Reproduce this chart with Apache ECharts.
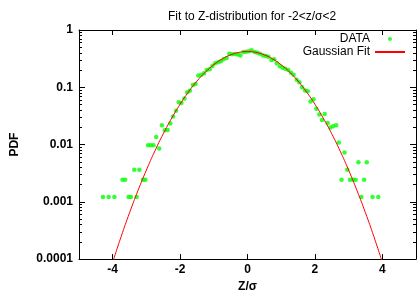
<!DOCTYPE html>
<html>
<head>
<meta charset="utf-8">
<script src="https://cdn.jsdelivr.net/npm/echarts@6/dist/echarts.min.js"></script>
<style>
  html, body { margin: 0; padding: 0; background: #fff; }
  #chart { width: 418px; height: 298px; }
</style>
</head>
<body>
<div id="chart"></div>
<script>
// histogram points (z/sigma, pdf)
var dataX = [-4.29,-4.12,-3.95,-3.71,-3.63,-3.53,-3.46,-3.36,-3.29,-3.21,-3.10,-3.03,
  -2.95,-2.87,-2.79,-2.71,-2.62,-2.54,-2.45,-2.37,-2.29,-2.21,-2.12,-2.04,-1.96,-1.87,
  -1.79,-1.71,-1.62,-1.54,-1.46,-1.37,-1.29,-1.21,-1.12,-1.04,-0.96,-0.87,-0.79,-0.71,
  -0.62,-0.54,-0.46,-0.37,-0.29,-0.21,-0.12,-0.04,0.04,0.12,0.21,0.29,0.37,0.46,0.54,
  0.62,0.71,0.79,0.87,0.96,1.04,1.12,1.21,1.29,1.37,1.46,1.54,1.62,1.71,1.79,1.87,1.96,
  2.04,2.13,2.21,2.29,2.38,2.46,2.54,2.63,2.71,2.79,2.88,2.96,3.04,3.13,3.21,3.29,3.38,
  3.46,3.54,3.71,3.88];
var dataY = [0.00121,0.00121,0.00121,0.00242,0.00242,0.00121,0.00121,0.00363,0.00121,0.00363,0.00242,0.00242,
  0.0097,0.0097,0.0097,0.0135,0.0085,0.0218,0.0178,0.0180,0.0233,0.031,0.039,0.055,0.053,0.0636,
  0.082,0.087,0.110,0.114,0.160,0.166,0.176,0.200,0.206,0.235,0.264,0.274,0.285,0.308,
  0.325,0.385,0.378,0.382,0.372,0.360,0.415,0.417,0.427,0.444,0.411,0.400,0.385,0.360,0.350,
  0.340,0.300,0.310,0.262,0.232,0.219,0.210,0.200,0.180,0.165,0.135,0.122,0.100,0.088,0.085,0.0565,0.0618,
  0.042,0.0335,0.0268,0.034,0.0239,0.0199,0.0209,0.0217,0.0109,0.00242,0.00726,0.00363,0.00242,0.00242,0.00242,0.0049,0.00121,
  0.00242,0.0049,0.00121,0.00121];

// gaussian fit curve
var fitX = [-4,-3.75,-3.5,-3.25,-3,-2.75,-2.5,-2.25,-2,-1.75,-1.5,-1.25,-1,-0.75,-0.5,-0.25,
  0,0.25,0.5,0.75,1,1.25,1.5,1.75,2,2.25,2.5,2.75,3,3.25,3.5,3.75,4];
var fitY = [0.0000884,0.000247,0.000644,0.00157,0.00359,0.00768,0.0154,0.0288,0.0506,0.0831,0.128,0.184,0.247,0.312,0.368,0.406,
  0.42,0.406,0.368,0.312,0.247,0.184,0.128,0.0831,0.0506,0.0288,0.0154,0.00768,0.00359,0.00157,0.000644,0.000247,0.0000884];

var xTicks = [-4, -2, 0, 2, 4];
var yLabels = {'1': '1', '0.1': '0.1', '0.01': '0.01', '0.001': '0.001', '0.0001': '0.0001'};
var minorTicks = [];
[0.0001, 0.001, 0.01, 0.1].forEach(function (d) {
  for (var k = 2; k <= 9; k++) minorTicks.push(Math.log10(k * d));
});

var font = 'Liberation Sans';
var lineStyle = { color: '#000', width: 1 };
var axisLine = { onZero: false, lineStyle: lineStyle };

function zip(xs, ys) {
  return xs.map(function (x, i) { return [x, ys[i]]; });
}

var ec = echarts.init(document.getElementById('chart'));
var option = {
  animation: false,
  backgroundColor: '#fff',
  title: {
    text: 'Fit to Z-distribution for -2<z/σ<2',
    left: 163, top: 6,
    textStyle: { fontFamily: font, fontSize: 12, fontWeight: 'normal', color: '#000' }
  },
  legend: {
    orient: 'vertical', right: 12, top: 33, align: 'right', padding: 0,
    itemWidth: 30, itemHeight: 4, itemGap: 1,
    textStyle: { fontFamily: font, fontSize: 12, color: '#000', lineHeight: 12 },
    data: ['DATA', { name: 'Gaussian Fit', itemStyle: { opacity: 0 } }]
  },
  grid: { left: 79, right: 2, top: 30, bottom: 33 },
  xAxis: [{
    type: 'value', position: 'bottom', min: -5, max: 5,
    name: 'Z/σ', nameLocation: 'middle', nameGap: 19,
    nameTextStyle: { fontFamily: font, fontSize: 12, fontWeight: 'bold', color: '#000' },
    axisLine: axisLine,
    axisTick: { inside: true, length: 5, lineStyle: lineStyle, customValues: xTicks },
    axisLabel: { customValues: xTicks, margin: 5, fontFamily: font, fontSize: 12, fontWeight: 'bold', color: '#000' },
    splitLine: { show: false }
  }, {
    type: 'value', position: 'top', min: -5, max: 5,
    axisLine: axisLine,
    axisTick: { inside: true, length: 5, lineStyle: lineStyle, customValues: xTicks },
    axisLabel: { show: false },
    splitLine: { show: false }
  }],
  yAxis: [{
    type: 'log', logBase: 10, position: 'left', min: 0.0001, max: 1, interval: 1,
    name: 'PDF', nameLocation: 'middle', nameGap: 58, nameRotate: 90,
    nameTextStyle: { fontFamily: font, fontSize: 12, fontWeight: 'bold', color: '#000' },
    axisLine: axisLine,
    axisTick: { inside: true, length: 6, lineStyle: lineStyle },
    axisLabel: {
      margin: 6, fontFamily: font, fontSize: 12, fontWeight: 'bold', color: '#000',
      formatter: function (v) { return yLabels[String(+v.toPrecision(3))] || ''; }
    },
    splitLine: { show: false }
  }, {
    type: 'log', logBase: 10, position: 'right', min: 0.0001, max: 1, interval: 1,
    axisLine: axisLine,
    axisTick: { inside: true, length: 6, lineStyle: lineStyle },
    axisLabel: { show: false },
    splitLine: { show: false }
  }, {
    type: 'value', position: 'left', min: -4, max: 0,
    axisLine: { show: false, onZero: false },
    axisTick: { inside: true, length: 3, lineStyle: lineStyle, customValues: minorTicks },
    axisLabel: { show: false },
    splitLine: { show: false }
  }, {
    type: 'value', position: 'right', min: -4, max: 0,
    axisLine: { show: false, onZero: false },
    axisTick: { inside: true, length: 3, lineStyle: lineStyle, customValues: minorTicks },
    axisLabel: { show: false },
    splitLine: { show: false }
  }],
  series: [{
    name: 'DATA', type: 'scatter',
    xAxisIndex: 0, yAxisIndex: 0,
    symbol: 'circle', symbolSize: 4.5,
    itemStyle: { color: '#00ff00' },
    data: zip(dataX, dataY),
    z: 3
  }, {
    name: 'Gaussian Fit', type: 'line',
    xAxisIndex: 0, yAxisIndex: 0,
    smooth: true, showSymbol: false, symbol: 'none', clip: true,
    lineStyle: { color: '#ff0000', width: 1 },
    itemStyle: { color: '#ff0000' },
    data: zip(fitX, fitY),
    z: 4
  }]
};
ec.setOption(option);
</script>
</body>
</html>
